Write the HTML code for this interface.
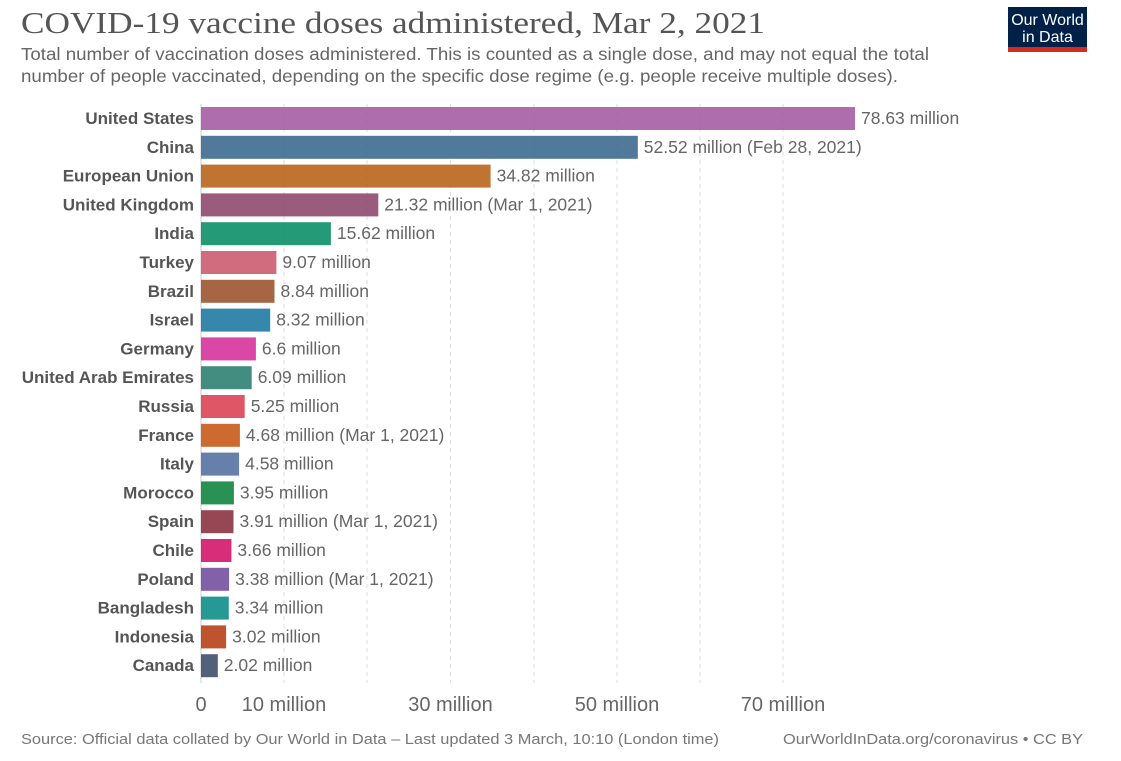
<!DOCTYPE html>
<html><head><meta charset="utf-8"><style>
body{margin:0;background:#fff;width:1121px;height:761px;overflow:hidden}
svg{display:block}
</style></head><body>
<svg width="1121" height="761" xmlns="http://www.w3.org/2000/svg" font-family="Liberation Sans, sans-serif">
<text x="21" y="33" font-family="Liberation Serif, serif" font-size="31" fill="#555" textLength="744" lengthAdjust="spacingAndGlyphs">COVID-19 vaccine doses administered, Mar 2, 2021</text>
<text x="21" y="60" font-size="17.5" fill="#666" textLength="908" lengthAdjust="spacingAndGlyphs">Total number of vaccination doses administered. This is counted as a single dose, and may not equal the total</text>
<text x="21" y="82" font-size="17.5" fill="#666" textLength="877" lengthAdjust="spacingAndGlyphs">number of people vaccinated, depending on the specific dose regime (e.g. people receive multiple doses).</text>
<rect x="1008" y="7" width="79" height="41" fill="#002147"/>
<rect x="1008" y="47" width="79" height="5" fill="#d42b21"/>
<text x="1047.5" y="25" font-size="16" fill="#fff" text-anchor="middle">Our World</text>
<text x="1047.5" y="42" font-size="16" fill="#fff" text-anchor="middle">in Data</text>
<g stroke="#ddd" stroke-dasharray="4,4" stroke-width="1">
<line x1="284" y1="104" x2="284" y2="683"/><line x1="367" y1="104" x2="367" y2="683"/>
<line x1="450.5" y1="104" x2="450.5" y2="683"/><line x1="534" y1="104" x2="534" y2="683"/>
<line x1="617" y1="104" x2="617" y2="683"/><line x1="700" y1="104" x2="700" y2="683"/>
<line x1="783" y1="104" x2="783" y2="683"/>
</g>
<line x1="201" y1="104" x2="201" y2="683" stroke="#ccc"/>
<g fill-opacity="0.9">
<rect x="201" y="107" width="654" height="23" fill="#a55ea5"/>
<rect x="201" y="135.8" width="436.8" height="23" fill="#3d6a8f"/>
<rect x="201" y="164.6" width="289.6" height="23" fill="#b8651b"/>
<rect x="201" y="193.4" width="177.3" height="23" fill="#8e4a6e"/>
<rect x="201" y="222.2" width="129.9" height="23" fill="#0d8f68"/>
<rect x="201" y="251" width="75.4" height="23" fill="#cc5c70"/>
<rect x="201" y="279.8" width="73.5" height="23" fill="#9c5530"/>
<rect x="201" y="308.6" width="69.2" height="23" fill="#1f7aa3"/>
<rect x="201" y="337.4" width="54.9" height="23" fill="#d6339a"/>
<rect x="201" y="366.2" width="50.7" height="23" fill="#2f7f72"/>
<rect x="201" y="395" width="43.7" height="23" fill="#dc4556"/>
<rect x="201" y="423.8" width="38.9" height="23" fill="#c85a1a"/>
<rect x="201" y="452.6" width="38.1" height="23" fill="#5571a2"/>
<rect x="201" y="481.4" width="32.9" height="23" fill="#12853f"/>
<rect x="201" y="510.2" width="32.5" height="23" fill="#8a3340"/>
<rect x="201" y="539" width="30.4" height="23" fill="#d4166a"/>
<rect x="201" y="567.8" width="28.1" height="23" fill="#7550a0"/>
<rect x="201" y="596.6" width="27.8" height="23" fill="#0d8f88"/>
<rect x="201" y="625.4" width="25.1" height="23" fill="#b8401a"/>
<rect x="201" y="654.2" width="16.8" height="23" fill="#3f4f6b"/>
</g>
<g font-size="17" font-weight="bold" fill="#555" text-anchor="end">
<text x="194" y="124">United States</text>
<text x="194" y="152.8">China</text>
<text x="194" y="181.6">European Union</text>
<text x="194" y="210.4">United Kingdom</text>
<text x="194" y="239.2">India</text>
<text x="194" y="268">Turkey</text>
<text x="194" y="296.8">Brazil</text>
<text x="194" y="325.6">Israel</text>
<text x="194" y="354.4">Germany</text>
<text x="194" y="383.2">United Arab Emirates</text>
<text x="194" y="412">Russia</text>
<text x="194" y="440.8">France</text>
<text x="194" y="469.6">Italy</text>
<text x="194" y="498.4">Morocco</text>
<text x="194" y="527.2">Spain</text>
<text x="194" y="556">Chile</text>
<text x="194" y="584.8">Poland</text>
<text x="194" y="613.6">Bangladesh</text>
<text x="194" y="642.4">Indonesia</text>
<text x="194" y="671.2">Canada</text>
</g>
<g font-size="17.5" fill="#666">
<text x="861" y="124">78.63 million</text>
<text x="643.8" y="152.8">52.52 million (Feb 28, 2021)</text>
<text x="496.6" y="181.6">34.82 million</text>
<text x="384.3" y="210.4">21.32 million (Mar 1, 2021)</text>
<text x="336.9" y="239.2">15.62 million</text>
<text x="282.4" y="268">9.07 million</text>
<text x="280.5" y="296.8">8.84 million</text>
<text x="276.2" y="325.6">8.32 million</text>
<text x="261.9" y="354.4">6.6 million</text>
<text x="257.7" y="383.2">6.09 million</text>
<text x="250.7" y="412">5.25 million</text>
<text x="245.9" y="440.8">4.68 million (Mar 1, 2021)</text>
<text x="245.1" y="469.6">4.58 million</text>
<text x="239.9" y="498.4">3.95 million</text>
<text x="239.5" y="527.2">3.91 million (Mar 1, 2021)</text>
<text x="237.4" y="556">3.66 million</text>
<text x="235.1" y="584.8">3.38 million (Mar 1, 2021)</text>
<text x="234.8" y="613.6">3.34 million</text>
<text x="232.1" y="642.4">3.02 million</text>
<text x="223.8" y="671.2">2.02 million</text>
</g>
<g font-size="20" fill="#666" text-anchor="middle">
<text x="201" y="711">0</text><text x="284" y="711">10 million</text><text x="450.5" y="711">30 million</text><text x="617" y="711">50 million</text><text x="783" y="711">70 million</text>
</g>
<text x="21" y="744" font-size="15" fill="#777" textLength="698" lengthAdjust="spacingAndGlyphs">Source: Official data collated by Our World in Data – Last updated 3 March, 10:10 (London time)</text>
<text x="783" y="744" font-size="15" fill="#777" textLength="300" lengthAdjust="spacingAndGlyphs">OurWorldInData.org/coronavirus • CC BY</text>
</svg>
</body></html>
